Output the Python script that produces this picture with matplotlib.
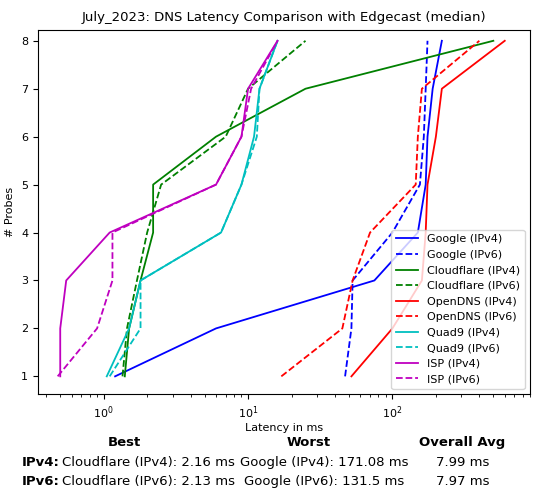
import matplotlib
matplotlib.use("Agg")
import matplotlib.pyplot as plt

probes = [1, 2, 3, 4, 5, 6, 7, 8]

# latency (ms) per probe
google_v4 = [1.2, 6.0, 75, 150, 170, 175, 190, 220]
google_v6 = [47, 52, 53, 100, 155, 165, 170, 175]
cloudflare_v4 = [1.4, 1.5, 1.8, 2.2, 2.2, 6.0, 25, 500]
cloudflare_v6 = [1.35, 1.45, 1.7, 2.0, 2.5, 7.0, 10, 25]
opendns_v4 = [52, 100, 160, 170, 175, 200, 220, 600]
opendns_v6 = [17, 45, 53, 70, 145, 150, 160, 400]
quad9_v4 = [1.05, 1.5, 1.8, 6.5, 9, 11, 12, 16]
quad9_v6 = [1.1, 1.8, 1.8, 6.5, 9, 11.5, 12, 16]
isp_v4 = [0.5, 0.5, 0.55, 1.1, 6.0, 9, 10, 16]
isp_v6 = [0.48, 0.9, 1.15, 1.15, 6.0, 9, 10.5, 16]

series = [
    ("Google (IPv4)", google_v4, "b", "-"),
    ("Google (IPv6)", google_v6, "b", "--"),
    ("Cloudflare (IPv4)", cloudflare_v4, "g", "-"),
    ("Cloudflare (IPv6)", cloudflare_v6, "g", "--"),
    ("OpenDNS (IPv4)", opendns_v4, "r", "-"),
    ("OpenDNS (IPv6)", opendns_v6, "r", "--"),
    ("Quad9 (IPv4)", quad9_v4, "c", "-"),
    ("Quad9 (IPv6)", quad9_v6, "c", "--"),
    ("ISP (IPv4)", isp_v4, "m", "-"),
    ("ISP (IPv6)", isp_v6, "m", "--"),
]

fig = plt.figure(figsize=(5.41, 4.96), dpi=100)
ax = fig.add_axes([0.07, 0.205, 0.91, 0.735])
for label, vals, color, ls in series:
    ax.plot(vals, probes, color=color, linestyle=ls, linewidth=1.3, label=label)

ax.set_xscale("log")
ax.set_xlim(0.35, 900)
ax.set_ylim(0.625, 8.23)
ax.tick_params(labelsize=8)
ax.set_xlabel("Latency in ms", fontsize=8, labelpad=2)
ax.set_ylabel("# Probes", fontsize=8)
ax.set_title("July_2023: DNS Latency Comparison with Edgecast (median)", fontsize=9.5)
ax.legend(loc="lower right", fontsize=8)

# summary table below the plot
fig.text(0.23, 0.1, "Best", fontsize=9.5, weight="bold", ha="center")
fig.text(0.57, 0.1, "Worst", fontsize=9.5, weight="bold", ha="center")
fig.text(0.855, 0.1, "Overall Avg", fontsize=9.5, weight="bold", ha="center")
rows = [
    ("IPv4:", "Cloudflare (IPv4): 2.16 ms", "Google (IPv4): 171.08 ms", "7.99 ms"),
    ("IPv6:", "Cloudflare (IPv6): 2.13 ms", "Google (IPv6): 131.5 ms", "7.97 ms"),
]
for i, (lab, best, worst, avg) in enumerate(rows):
    y = 0.06 - i * 0.038
    fig.text(0.11, y, lab, fontsize=9.5, weight="bold", ha="right")
    fig.text(0.115, y, best, fontsize=9.5, ha="left")
    fig.text(0.6, y, worst, fontsize=9.5, ha="center")
    fig.text(0.855, y, avg, fontsize=9.5, ha="center")

fig.savefig("out.png", dpi=100)
